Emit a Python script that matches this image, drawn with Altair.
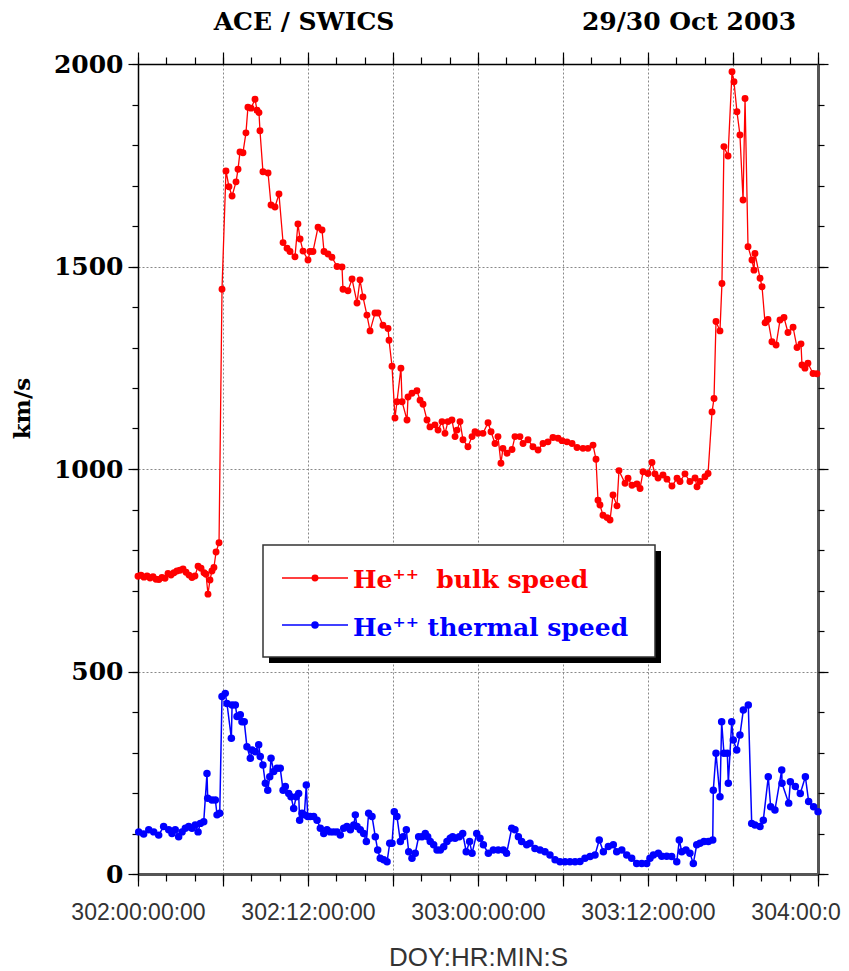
import altair as alt
import pandas as pd

# ---------------- data (hours since 302:00:00:00, km/s) ----------------
red_t = [0.00, 0.21, 0.42, 0.64, 0.85, 1.06, 1.27, 1.48, 1.69, 1.91, 2.12, 2.33, 2.54, 2.75, 2.96,
         3.18, 3.39, 3.60, 3.81, 4.02, 4.24, 4.45, 4.66, 4.80, 4.94, 5.08, 5.22, 5.36, 5.51, 5.72,
         5.93, 6.21, 6.42, 6.64, 6.92, 7.06, 7.20, 7.41, 7.62, 7.76, 7.98, 8.26, 8.40, 8.54, 8.61,
         8.82, 9.18, 9.39, 9.67, 9.95, 10.24, 10.52, 10.73, 11.08, 11.29, 11.44, 11.65, 12.00, 12.14,
         12.35, 12.71, 12.99, 13.13, 13.41, 13.69, 14.05, 14.40, 14.47, 14.82, 15.11, 15.46, 15.67,
         15.88, 16.16, 16.38, 16.73, 16.94, 17.29, 17.65, 17.72, 17.93, 18.14, 18.28, 18.56, 18.64,
         18.99, 19.06, 19.34, 19.69, 19.91, 20.12, 20.40, 20.61, 20.96, 21.18, 21.46, 21.67, 21.88,
         22.16, 22.38, 22.52, 22.73, 22.94, 23.29, 23.58, 23.79, 24.00, 24.35, 24.71, 24.92, 25.20,
         25.41, 25.62, 25.76, 26.05, 26.40, 26.61, 26.96, 27.18, 27.53, 27.88, 28.24, 28.59, 28.94,
         29.29, 29.65, 29.93, 30.28, 30.64, 30.99, 31.41, 31.76, 32.12, 32.33, 32.47, 32.61, 32.82,
         33.11, 33.32, 33.53, 33.81, 33.95, 34.38, 34.59, 34.87, 35.22, 35.44, 35.65, 36.00, 36.28,
         36.49, 36.71, 37.06, 37.34, 37.69, 38.05, 38.26, 38.61, 38.96, 39.32, 39.46, 39.67, 40.02,
         40.24, 40.52, 40.66, 40.80, 41.08, 41.22, 41.36, 41.65, 41.93, 42.07, 42.28, 42.49, 42.71,
         42.85, 43.06, 43.34, 43.48, 43.55, 43.91, 44.05, 44.26, 44.47, 44.75, 45.04, 45.32, 45.60,
         45.88, 46.24, 46.52, 46.80, 46.87, 47.08, 47.29, 47.65, 47.93]
red_v = [735, 738, 733, 736, 731, 734, 728, 727, 732, 730, 742, 738, 744, 748, 750,
         753, 745, 738, 732, 736, 760, 755, 744, 740, 691, 726, 748, 757, 795, 818,
         1444, 1736, 1697, 1674, 1709, 1740, 1783, 1781, 1830, 1893, 1891, 1913, 1886, 1880, 1835,
         1734, 1731, 1652, 1647, 1679, 1559, 1545, 1537, 1524, 1605, 1568, 1538, 1516, 1537,
         1537, 1597, 1590, 1537, 1531, 1523, 1500, 1499, 1444, 1440, 1469, 1410, 1467,
         1425, 1380, 1341, 1385, 1385, 1355, 1347, 1318, 1254, 1126, 1166, 1249, 1166,
         1121, 1178, 1187, 1193, 1170, 1160, 1121, 1104, 1109, 1096, 1117, 1088, 1117,
         1121, 1080, 1096, 1117, 1072, 1055, 1080, 1092, 1088, 1088, 1114, 1092, 1063,
         1080, 1014, 1051, 1039, 1048, 1080, 1080, 1063, 1072, 1055, 1047, 1063, 1067,
         1078, 1076, 1070, 1067, 1063, 1053, 1051, 1051, 1059, 1024, 923, 911, 886,
         880, 874, 936, 909, 996, 965, 977, 960, 963, 952, 993, 989, 1016,
         988, 978, 985, 975, 958, 977, 969, 988, 969, 978, 956, 969, 981,
         989, 1141, 1174, 1364, 1341, 1458, 1796, 1773, 1981, 1956, 1882, 1825, 1664,
         1915, 1549, 1516, 1491, 1532, 1471, 1450, 1361, 1369, 1314, 1306, 1368, 1374,
         1337, 1350, 1300, 1309, 1257, 1249, 1261, 1236, 1235]

blue_t = [0.05, 0.40, 0.76, 1.11, 1.46, 1.81, 2.17, 2.40, 2.63, 2.87, 3.11, 3.34, 3.58, 3.81, 4.04,
          4.24, 4.40, 4.64, 4.87, 4.92, 5.22, 5.46, 5.58, 5.77, 5.93, 6.16, 6.28, 6.59, 6.64, 6.87,
          6.99, 7.22, 7.34, 7.50, 7.69, 7.93, 8.05, 8.28, 8.52, 8.63, 8.82, 8.99, 9.16, 9.30, 9.39,
          9.58, 9.81, 10.04, 10.24, 10.40, 10.64, 10.80, 10.99, 11.17, 11.34, 11.41, 11.58, 11.74,
          11.88, 11.98, 12.16, 12.40, 12.64, 12.87, 13.11, 13.34, 13.57, 13.81, 14.05, 14.28, 14.52,
          14.75, 14.99, 15.23, 15.34, 15.46, 15.69, 15.93, 16.12, 16.28, 16.52, 16.75, 16.92, 17.10,
          17.34, 17.58, 17.77, 17.93, 18.09, 18.28, 18.52, 18.71, 18.94, 19.11, 19.34, 19.57, 19.81,
          20.05, 20.28, 20.45, 20.63, 20.87, 21.11, 21.34, 21.58, 21.81, 22.04, 22.21, 22.38, 22.68,
          22.92, 23.17, 23.41, 23.58, 23.91, 24.14, 24.38, 24.73, 25.08, 25.43, 25.79, 26.02, 26.38,
          26.61, 26.85, 27.08, 27.44, 27.67, 28.02, 28.38, 28.73, 29.08, 29.44, 29.79, 30.14, 30.49,
          30.85, 31.20, 31.55, 31.91, 32.26, 32.56, 32.85, 33.20, 33.55, 33.79, 34.15, 34.50, 34.85,
          35.20, 35.56, 35.91, 36.14, 36.38, 36.73, 36.97, 37.32, 37.67, 38.03, 38.21, 38.38, 38.68,
          38.96, 39.20, 39.44, 39.67, 39.95, 40.26, 40.57, 40.61, 40.80, 41.08, 41.20, 41.36, 41.60,
          41.67, 41.91, 42.02, 42.26, 42.49, 42.73, 43.08, 43.32, 43.55, 43.91, 44.14, 44.49, 44.66,
          44.96, 45.44, 45.46, 45.93, 46.05, 46.40, 46.75, 47.11, 47.34, 47.69, 48.00]
blue_v = [104, 99, 109, 104, 96, 117, 109, 100, 109, 92, 104, 113, 117, 113, 121,
          104, 125, 129, 248, 187, 183, 183, 146, 150, 438, 446, 421, 335, 417, 417,
          389, 393, 376, 376, 314, 286, 306, 302, 319, 290, 269, 224, 207, 240, 286,
          253, 261, 261, 207, 216, 199, 191, 162, 191, 199, 133, 150, 146,
          220, 142, 142, 142, 133, 113, 100, 109, 104, 104, 104, 96, 113,
          117, 109, 121, 146, 117, 109, 100, 80, 150, 142, 92, 59, 39,
          35, 30, 76, 76, 154, 142, 80, 92, 109, 55, 39, 51, 92,
          92, 100, 92, 80, 72, 59, 59, 67, 80, 88, 92, 88, 92,
          100, 55, 80, 51, 100, 88, 72, 51, 59, 59, 59, 51, 113,
          109, 92, 80, 72, 76, 63, 59, 55, 47, 35, 30, 30, 30,
          30, 31, 39, 43, 47, 84, 55, 68, 72, 55, 59, 47, 39,
          26, 26, 26, 39, 47, 51, 44, 44, 43, 30, 84, 55, 59,
          51, 26, 72, 76, 80, 80, 84, 207, 298, 191, 376, 298, 298,
          224, 376, 331, 306, 343, 405, 417, 125, 121, 117, 133, 240, 166,
          158, 257, 224, 175, 228, 216, 199, 240, 179, 166, 154]

x_major = [0, 6, 12, 18, 24, 30, 36, 42, 48]
x_minor = list(range(0, 49, 2))
y_major = [0, 500, 1000, 1500, 2000]
y_minor = list(range(0, 2001, 100))
x_label_hours = [0, 12, 24, 36, 48]
x_label_text = ["302:00:00:00", "302:12:00:00", "303:00:00:00", "303:12:00:00", "304:00:00:00"]

series_names = ["He\u207a\u207a \u00a0bulk speed", "He\u207a\u207a thermal speed"]
series_colors = ["#ff0000", "#0000ff"]
title_left = "ACE / SWICS"
title_right = "29/30 Oct 2003"
x_title = "DOY:HR:MIN:S"
y_title = "km/s"

# ---------------- build ----------------
red_df = pd.DataFrame({"t": red_t, "v": red_v})
blue_df = pd.DataFrame({"t": blue_t, "v": blue_v})

SERIF = "DejaVu Serif"
SANS = "Liberation Sans"

label_expr = ""
for h, s in zip(x_label_hours, x_label_text):
    label_expr += f"datum.value == {h} ? '{s}' : "
label_expr += "''"

xs = alt.Scale(domain=[0, 48], nice=False, zero=False)
ys = alt.Scale(domain=[0, 2000], nice=False)

ax_bottom_major = alt.Axis(orient="bottom", values=x_major, tickSize=12, tickWidth=1.2, tickColor="black",
                           domainColor="#555555", domainWidth=3, grid=True, gridDash=[2, 2],
                           gridColor="#888888", gridWidth=1, labelExpr=label_expr, labelFont=SANS,
                           labelFontSize=23, labelColor="#333333", labelPadding=15, labelFlush=False,
                           labelOverlap=False, labelBound=False,
                           title=x_title, titleFont=SANS, titleFontSize=26, titleFontWeight="normal",
                           titleColor="#333333", titleX=340, titleY=83, titleAlign="center",
                           titleBaseline="middle", titleAnchor="start")
ax_bottom_minor = alt.Axis(orient="bottom", values=x_minor, tickSize=7, tickWidth=1.2, tickColor="black",
                           labels=False, domain=False, grid=False, title=None)
ax_top_major = alt.Axis(orient="top", values=x_major, tickSize=12, tickWidth=1.2, tickColor="black",
                        labels=False, domainColor="black", domainWidth=1.5, grid=False, title=None)
ax_top_minor = alt.Axis(orient="top", values=x_minor, tickSize=7, tickWidth=1.2, tickColor="black",
                        labels=False, domain=False, grid=False, title=None)

ax_left_major = alt.Axis(orient="left", values=y_major, format="d", tickSize=10, tickWidth=1.2,
                         tickColor="black", domainColor="black", domainWidth=1.5, grid=True,
                         gridDash=[2, 2], gridColor="#888888", gridWidth=1, labelFont=SERIF,
                         labelFontWeight="bold", labelFontSize=25, labelColor="black", labelPadding=5,
                         labelOverlap=False, labelFlush=False,
                         title=y_title, titleFont=SERIF, titleFontWeight="bold", titleFontSize=23,
                         titleColor="black", titleX=-116, titleY=344, titleAngle=270,
                         titleAlign="center", titleBaseline="middle", titleAnchor="start")
ax_left_minor = alt.Axis(orient="left", values=y_minor, tickSize=6, tickWidth=1.2, tickColor="black",
                         labels=False, domain=False, grid=False, title=None)
ax_right_major = alt.Axis(orient="right", values=y_major, tickSize=10, tickWidth=1.2, tickColor="black",
                          labels=False, domainColor="#555555", domainWidth=3, grid=False, title=None)
ax_right_minor = alt.Axis(orient="right", values=y_minor, tickSize=6, tickWidth=1.2, tickColor="black",
                          labels=False, domain=False, grid=False, title=None)

red_line = alt.Chart(red_df).mark_line(color=series_colors[0], strokeWidth=1.3).encode(
    x=alt.X("t:Q", scale=xs, axis=ax_bottom_major),
    y=alt.Y("v:Q", scale=ys, axis=ax_left_major))
red_pts = alt.Chart(red_df).mark_circle(color=series_colors[0], size=48, opacity=1).encode(
    x=alt.X("t:Q", scale=xs, axis=ax_bottom_minor),
    y=alt.Y("v:Q", scale=ys, axis=ax_left_minor))
blue_line = alt.Chart(blue_df).mark_line(color=series_colors[1], strokeWidth=1.5).encode(
    x=alt.X("t:Q", scale=xs, axis=ax_top_major),
    y=alt.Y("v:Q", scale=ys, axis=ax_right_major))
blue_pts = alt.Chart(blue_df).mark_circle(color=series_colors[1], size=56, opacity=1).encode(
    x=alt.X("t:Q", scale=xs, axis=ax_top_minor),
    y=alt.Y("v:Q", scale=ys, axis=ax_right_minor))

one = alt.Data(values=[{"a": 1}])

# legend box with drop shadow (annotation, pixel positions in plot area)
shadow = alt.Chart(one).mark_rect(color="black").encode(
    x=alt.value(131), x2=alt.value(523), y=alt.value(487), y2=alt.value(599))
box = alt.Chart(one).mark_rect(fill="white", stroke="#333333", strokeWidth=1.5).encode(
    x=alt.value(125), x2=alt.value(517), y=alt.value(481), y2=alt.value(593))
leg_red_line = alt.Chart(one).mark_rule(color=series_colors[0], strokeWidth=1.3).encode(
    x=alt.value(144), x2=alt.value(210), y=alt.value(514))
leg_red_dot = alt.Chart(one).mark_circle(color=series_colors[0], size=48, opacity=1).encode(
    x=alt.value(177), y=alt.value(514))
leg_red_txt = alt.Chart(one).mark_text(color=series_colors[0], font=SERIF, fontWeight="bold",
                                       fontSize=25, align="left", baseline="middle").encode(
    x=alt.value(215), y=alt.value(516), text=alt.value(series_names[0]))
leg_blue_line = alt.Chart(one).mark_rule(color=series_colors[1], strokeWidth=1.5).encode(
    x=alt.value(144), x2=alt.value(210), y=alt.value(561))
leg_blue_dot = alt.Chart(one).mark_circle(color=series_colors[1], size=56, opacity=1).encode(
    x=alt.value(177), y=alt.value(561))
leg_blue_txt = alt.Chart(one).mark_text(color=series_colors[1], font=SERIF, fontWeight="bold",
                                        fontSize=25, align="left", baseline="middle").encode(
    x=alt.value(215), y=alt.value(564), text=alt.value(series_names[1]))

t_left = alt.Chart(one).mark_text(font=SERIF, fontWeight="bold", fontSize=25, color="black",
                                  align="center", baseline="alphabetic").encode(
    x=alt.value(166), y=alt.value(-34), text=alt.value(title_left))
t_right = alt.Chart(one).mark_text(font=SERIF, fontWeight="bold", fontSize=25, color="black",
                                   align="center", baseline="alphabetic").encode(
    x=alt.value(551), y=alt.value(-34), text=alt.value(title_right))

chart = alt.layer(
    red_line, red_pts, blue_line, blue_pts,
    shadow, box, leg_red_line, leg_red_dot, leg_red_txt,
    leg_blue_line, leg_blue_dot, leg_blue_txt, t_left, t_right
).resolve_axis(x="independent", y="independent").properties(
    width=680, height=810,
    padding={"left": 130, "top": 56, "right": 23, "bottom": 97},
    autosize=alt.AutoSizeParams(type="none"),
    background="white",
).configure_view(stroke=None)

chart.save("out.html", embed_options={"renderer": "svg", "actions": False})
